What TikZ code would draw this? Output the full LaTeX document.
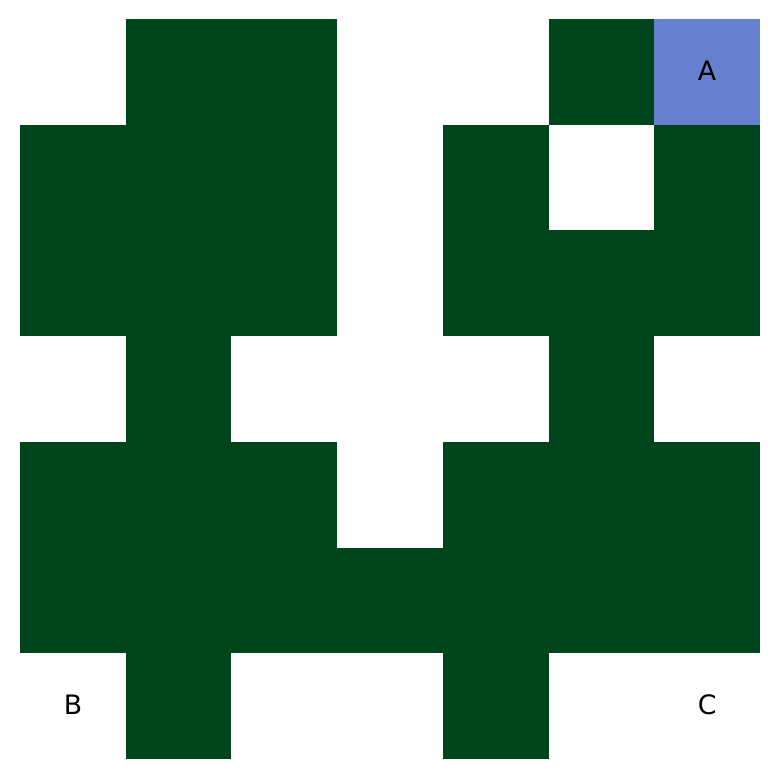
\documentclass[tikz,border=0pt]{standalone}
\usepackage{fontspec}
\setmainfont{DejaVu Sans}
\usepackage{xcolor}
\definecolor{gridgreen}{HTML}{00441B}
\definecolor{gridblue}{HTML}{6680CF}
\begin{document}
\begin{tikzpicture}[x=1cm, y=1cm,
    lbl/.style={font=\fontsize{7.2}{8.5}\selectfont, text=black, inner sep=0pt}]
  \useasboundingbox (-0.19,-0.19) rectangle (7.18,7.18);
  % green cells, one row per line: row number (from the top) / columns
  \foreach \r/\cols in {%
      0/{1,2,5},
      1/{0,1,2,4,6},
      2/{0,1,2,4,5,6},
      3/{1,5},
      4/{0,1,2,4,5,6},
      5/{0,1,2,3,4,5,6},
      6/{1,4}}{
    \foreach \c in \cols
      \fill[gridgreen] (\c,6-\r) rectangle ++(1,1);}
  % the marked cell
  \fill[gridblue] (6,6) rectangle (7,7);
  \node[lbl] (cellA) at (6.5,6.51) {A};
  \node[lbl] (cellB) at (0.5,0.51) {B};
  \node[lbl] (cellC) at (6.5,0.51) {C};
\end{tikzpicture}
\end{document}
